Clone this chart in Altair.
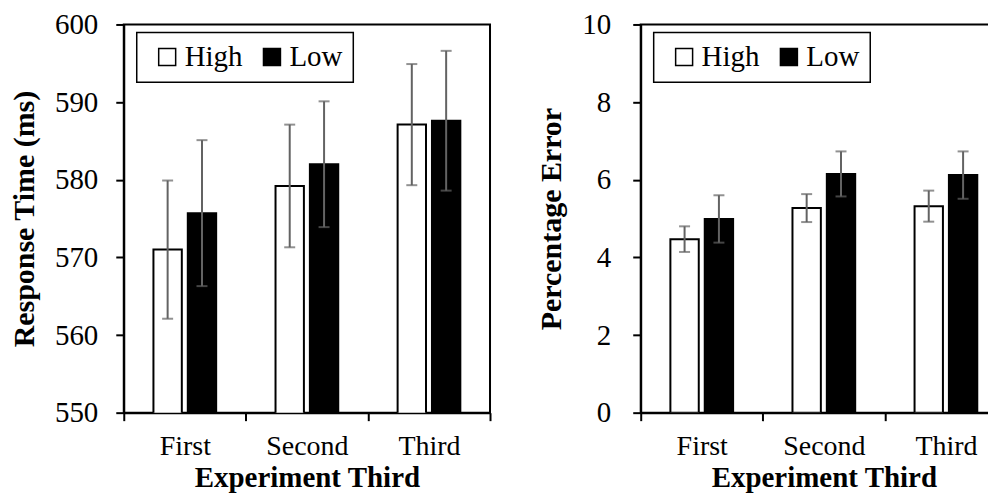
import altair as alt
import pandas as pd

categories = ["First", "Second", "Third"]
levels = ["High", "Low"]

rt_high = [571.0, 579.2, 587.1]
rt_high_err = [8.9, 7.9, 7.8]
rt_low = [575.7, 582.0, 587.6]
rt_low_err = [9.4, 8.1, 9.0]

pe_high = [4.47, 5.27, 5.32]
pe_high_err = [0.33, 0.36, 0.40]
pe_low = [4.99, 6.15, 6.12]
pe_low_err = [0.61, 0.58, 0.61]

rt_ticks = [550, 560, 570, 580, 590, 600]
pe_ticks = [0, 2, 4, 6, 8, 10]

FONT = "Liberation Serif"
ERR = "#636363"


def frame(high, high_err, low, low_err):
    rows = []
    for i, c in enumerate(categories):
        rows.append(dict(cat=c, level="High", value=high[i],
                         lo=high[i] - high_err[i], hi=high[i] + high_err[i]))
        rows.append(dict(cat=c, level="Low", value=low[i],
                         lo=low[i] - low_err[i], hi=low[i] + low_err[i]))
    return pd.DataFrame(rows)


def panel(df, domain, ticks, ytitle, label_pad):
    x = alt.X("cat:N", sort=categories,
              scale=alt.Scale(paddingInner=0, paddingOuter=0),
              axis=alt.Axis(title="Experiment Third", labelAngle=0,
                            tickBand="extent", labelPadding=12,
                            labelFontSize=28, titleFontSize=29,
                            titlePadding=3))
    xo = alt.XOffset("level:N", sort=levels,
                     scale=alt.Scale(paddingInner=0.174, paddingOuter=0.864))
    yscale = alt.Scale(domain=domain, zero=False, nice=False)
    yaxis = alt.Axis(values=ticks, title=ytitle, labelPadding=label_pad,
                     labelFontSize=29, titleFontSize=30, titlePadding=15)
    base = alt.Chart(df)
    bars = base.mark_bar(stroke="black", strokeWidth=2, clip=True).encode(
        x=x, xOffset=xo,
        y=alt.Y("value:Q", scale=yscale, axis=yaxis),
        fill=alt.Fill("level:N", sort=levels,
                      scale=alt.Scale(domain=levels, range=["white", "black"]),
                      legend=alt.Legend(orient="none", legendX=13, legendY=8,
                                        direction="horizontal", title=None,
                                        symbolType="square", symbolSize=289,
                                        symbolStrokeColor="black",
                                        symbolStrokeWidth=1.5,
                                        symbolOffset=6, labelOffset=3,
                                        columnPadding=9, padding=10,
                                        gridAlign="none",
                                        strokeColor="black",
                                        fillColor="white")))
    rules = base.mark_rule(color=ERR, strokeWidth=2).encode(
        x=x, xOffset=xo,
        y=alt.Y("lo:Q", scale=yscale, axis=yaxis), y2="hi:Q")
    cap_hi = base.mark_tick(color=ERR, size=11, thickness=2).encode(
        x=x, xOffset=xo, y=alt.Y("hi:Q", scale=yscale, axis=yaxis))
    cap_lo = base.mark_tick(color=ERR, size=11, thickness=2).encode(
        x=x, xOffset=xo, y=alt.Y("lo:Q", scale=yscale, axis=yaxis))
    return alt.layer(bars, rules, cap_hi, cap_lo).properties(width=367, height=389)


left = panel(frame(rt_high, rt_high_err, rt_low, rt_low_err),
             [550, 600], rt_ticks, "Response Time (ms)", 18)
right = panel(frame(pe_high, pe_high_err, pe_low, pe_low_err),
              [0, 10], pe_ticks, "Percentage Error", 22)

chart = alt.hconcat(left, right, spacing=44).resolve_scale(
    fill="independent").resolve_legend(fill="independent").properties(
    padding={"left": 0, "top": 1, "right": -21, "bottom": 0}
).configure_view(
    stroke="black", strokeWidth=2
).configure_axis(
    domainColor="black", domainWidth=2, tickColor="black", tickWidth=2,
    tickSize=8, labelFont=FONT, labelColor="black",
    titleFont=FONT, titleFontWeight="bold",
    titleColor="black", grid=False
).configure_legend(
    labelFont=FONT, labelFontSize=29, labelColor="black", strokeWidth=1.5
)

chart.save("out.html", embed_options={"renderer": "svg", "actions": False})
